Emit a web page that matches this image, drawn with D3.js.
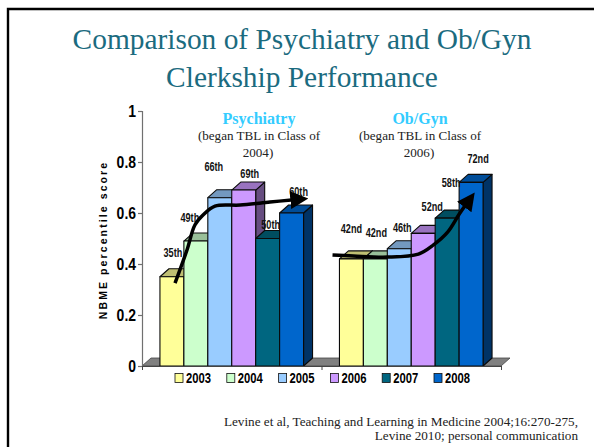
<!DOCTYPE html>
<html>
<head>
<meta charset="utf-8">
<script src="https://cdn.jsdelivr.net/npm/d3@7/dist/d3.min.js"></script>
<style>
    html, body { margin: 0; padding: 0; background: #fff; }
    svg { display: block; }
    .sans { font-family: "Liberation Sans", Arial, sans-serif; font-weight: bold; }
    .serif { font-family: "Liberation Serif", "Times New Roman", serif; }
</style>
</head>
<body>
<div id="chart"></div>
<script>
const groups = ["Psychiatry", "Ob/Gyn"];
const years = ["2003", "2004", "2005", "2006", "2007", "2008"];
const psychiatry = [0.35, 0.49, 0.66, 0.69, 0.50, 0.60];
const obgyn = [0.42, 0.42, 0.46, 0.52, 0.58, 0.72];
const psychiatryLabels = ["35th", "49th", "66th", "69th", "50th", "60th"];
const obgynLabels = ["42nd", "42nd", "46th", "52nd", "58th", "72nd"];
const yearColors = ["#FFFF99", "#CCFFCC", "#99CCFF", "#CC99FF", "#006680", "#0066CC"];
const yTicks = [0, 0.2, 0.4, 0.6, 0.8, 1];

// trend arrows: [position in bar widths from start of group, score]
const psychiatryTrend = [[0.63, 0.325], [1.13, 0.455], [1.46, 0.553], [1.8, 0.592], [2.3, 0.627], [3.35, 0.631], [4.6, 0.643], [5.6, 0.652]];
const obgynTrend = [[-0.29, 0.435], [0.59, 0.431], [2.0, 0.427], [3.3, 0.439], [3.93, 0.475], [4.52, 0.525], [5.0, 0.595], [5.3, 0.635]];

// labels were placed by hand in the original, so they get their own nudges
const psychiatryNudge = [[1, -24], [-6, -24], [-6, -31], [6, -17], [3, -14], [7, -22]];
const obgynNudge = [[0, -30], [1, -26], [3, -21], [9, -27], [4, -36], [7, -24]];

const width = 594, height = 447;
const depth = {x: 9, y: 8};
const plot = {left: 142, right: 501, top: 111, bottom: 366};

const svg = d3.select("#chart").append("svg")
    .attr("width", width)
    .attr("height", height);

// no narrow font installed, so squeeze the bold labels to the original width
function squeeze(selection, k) {
    selection.each(function () {
        d3.select(this)
            .attr("textLength", this.getComputedTextLength() * k)
            .attr("lengthAdjust", "spacingAndGlyphs");
    });
}

svg.append("defs").append("marker")
    .attr("id", "head")
    .attr("viewBox", "0 0 10 10")
    .attr("refX", 2)
    .attr("refY", 5)
    .attr("markerUnits", "userSpaceOnUse")
    .attr("markerWidth", 18)
    .attr("markerHeight", 18)
    .attr("orient", "auto")
    .append("path")
    .attr("d", "M0,0L10,5L0,10Z")
    .attr("fill", "#000");

// slide frame, cut off at the right and bottom
svg.append("path")
    .attr("d", d3.line()([[width, 9], [8, 9], [8, height]]))
    .attr("fill", "none")
    .attr("stroke", "#000")
    .attr("stroke-width", 2.4);

// title
const title = svg.append("text")
    .attr("class", "serif")
    .attr("text-anchor", "middle")
    .attr("fill", "#1B6B7F")
    .attr("font-size", 29.4);
title.append("tspan").attr("x", 302).attr("y", 49).text("Comparison of Psychiatry and Ob/Gyn");
title.append("tspan").attr("x", 302).attr("y", 87).text("Clerkship Performance");

const y = d3.scaleLinear().domain([0, 1]).range([plot.bottom, plot.top]);
const x0 = d3.scaleBand().domain(groups).range([plot.left, plot.right])
    .paddingInner(0.2).paddingOuter(0.1);
const x1 = d3.scaleBand().domain(years).range([0, x0.bandwidth()]);

// floor
const floor = [
    [plot.left, plot.bottom],
    [plot.left + depth.x, plot.bottom - depth.y],
    [plot.right + depth.x, plot.bottom - depth.y],
    [plot.right, plot.bottom]
];
svg.append("path")
    .attr("d", d3.line()(floor) + "Z")
    .attr("fill", "#808080")
    .attr("stroke", "#444")
    .attr("stroke-width", 0.8);

const chartData = [
    {group: groups[0], values: psychiatry, labels: psychiatryLabels, nudge: psychiatryNudge},
    {group: groups[1], values: obgyn, labels: obgynLabels, nudge: obgynNudge}
];

function shade(color, k) {
    const c = d3.rgb(color);
    return d3.rgb(c.r * k, c.g * k, c.b * k).formatHex();
}

chartData.forEach(g => {
    const node = svg.append("g").attr("transform", "translate(" + x0(g.group) + ",0)");
    g.values.forEach((v, i) => {
        const bx = x1(years[i]), bw = x1.bandwidth();
        const top = y(v), base = y(0);
        const bar = node.append("g")
            .attr("stroke", "#0a0a0a")
            .attr("stroke-width", 1.1)
            .attr("stroke-linejoin", "round");
        bar.append("path")
            .attr("d", d3.line()([[bx + bw, top], [bx + bw + depth.x, top - depth.y], [bx + bw + depth.x, base - depth.y], [bx + bw, base]]) + "Z")
            .attr("fill", shade(yearColors[i], 0.5));
        bar.append("path")
            .attr("d", d3.line()([[bx, top], [bx + depth.x, top - depth.y], [bx + bw + depth.x, top - depth.y], [bx + bw, top]]) + "Z")
            .attr("fill", shade(yearColors[i], 0.75));
        bar.append("rect")
            .attr("x", bx)
            .attr("y", top)
            .attr("width", bw)
            .attr("height", base - top)
            .attr("fill", yearColors[i]);
    });
    node.selectAll("text.value")
        .data(g.values)
        .enter()
        .append("text")
        .attr("class", "value sans")
        .attr("text-anchor", "middle")
        .attr("font-size", 12)
        .attr("fill", "#111")
        .attr("x", (d, i) => x1(years[i]) + x1.bandwidth() / 2 + g.nudge[i][0])
        .attr("y", (d, i) => y(d) + g.nudge[i][1] + 4.5)
        .text((d, i) => g.labels[i])
        .call(squeeze, 0.76);
});

// axes
const yAxis = d3.axisLeft(y).tickValues(yTicks).tickFormat(d3.format("")).tickSize(4).tickPadding(2);
const yG = svg.append("g").attr("transform", "translate(" + plot.left + ",0)").call(yAxis);
yG.selectAll("path, line").attr("stroke", "#707070").attr("stroke-width", 1.2);
yG.selectAll("text")
    .attr("class", "sans")
    .attr("font-size", 17)
    .attr("fill", "#000")
    .call(squeeze, 0.82);

const xAxis = d3.axisBottom(d3.scaleLinear().domain([0, 2]).range([plot.left, plot.right]))
    .ticks(2).tickFormat("").tickSize(4);
const xG = svg.append("g").attr("transform", "translate(0," + plot.bottom + ")").call(xAxis);
xG.selectAll("path, line").attr("stroke", "#444").attr("stroke-width", 1);

svg.append("text")
    .attr("class", "sans")
    .attr("transform", "translate(107,240) rotate(-90)")
    .attr("text-anchor", "middle")
    .attr("font-size", 10.5)
    .attr("letter-spacing", 2.1)
    .attr("fill", "#000")
    .text("NBME percentile score");

// group headings
const headings = [
    {name: groups[0], cx: 259, lines: ["(began TBL in Class of", "2004)"]},
    {name: groups[1], cx: 420, lines: ["(began TBL in Class of", "2006)"]}
];
headings.forEach(h => {
    svg.append("text")
        .attr("class", "serif")
        .attr("font-weight", "bold")
        .attr("text-anchor", "middle")
        .attr("x", h.cx)
        .attr("y", 124)
        .attr("font-size", 16)
        .attr("fill", "#33CCFF")
        .text(h.name);
    h.lines.forEach((t, i) => {
        svg.append("text")
            .attr("class", "serif")
            .attr("text-anchor", "middle")
            .attr("x", h.cx + (i ? -1 : 0))
            .attr("y", 140 + i * 17)
            .attr("font-size", 13.1)
            .attr("fill", "#222")
            .text(t);
    });
});

// trend arrows
const trendLine = gName => d3.line()
    .x(d => x0(gName) + d[0] * x1.bandwidth())
    .y(d => y(d[1]))
    .curve(d3.curveCatmullRom);
svg.append("path")
    .attr("d", trendLine(groups[0])(psychiatryTrend))
    .attr("fill", "none").attr("stroke", "#000").attr("stroke-width", 3.5)
    .attr("marker-end", "url(#head)");
svg.append("path")
    .attr("d", trendLine(groups[1])(obgynTrend))
    .attr("fill", "none").attr("stroke", "#000").attr("stroke-width", 3.5)
    .attr("marker-end", "url(#head)");

// legend
const legendX = d3.scalePoint().domain(years).range([175, 434]);
const legend = svg.selectAll("g.legend")
    .data(years)
    .enter()
    .append("g")
    .attr("class", "legend")
    .attr("transform", d => "translate(" + legendX(d) + ",373.5)");
legend.append("rect")
    .attr("width", 8).attr("height", 9)
    .attr("fill", (d, i) => yearColors[i])
    .attr("stroke", "#111").attr("stroke-width", 0.8);
legend.append("text")
    .attr("class", "sans")
    .attr("x", 11).attr("y", 9.8)
    .attr("font-size", 15)
    .attr("fill", "#000")
    .text(d => d)
    .call(squeeze, 0.75);

// citation
const cite = svg.append("text")
    .attr("class", "serif")
    .attr("text-anchor", "end")
    .attr("font-size", 13.2)
    .attr("fill", "#222");
cite.append("tspan").attr("x", 578).attr("y", 426).text("Levine et al, Teaching and Learning in Medicine 2004;16:270-275,");
cite.append("tspan").attr("x", 578).attr("y", 440).text("Levine 2010; personal communication");
</script>
</body>
</html>
